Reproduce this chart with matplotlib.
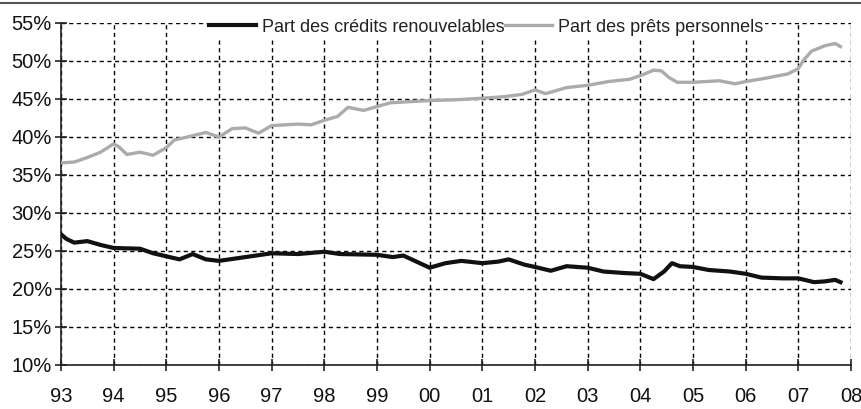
import matplotlib
matplotlib.use("Agg")
import matplotlib.pyplot as plt
from matplotlib.lines import Line2D
from matplotlib.ticker import FuncFormatter, MultipleLocator
import matplotlib.font_manager as fm

# ---- data ----
pp_years = [1993.0, 1993.25, 1993.5, 1993.75, 1994.0, 1994.1, 1994.25, 1994.5, 1994.75,
            1995.0, 1995.15, 1995.4, 1995.75, 1996.0, 1996.25, 1996.5, 1996.75,
            1997.0, 1997.5, 1997.75, 1998.0, 1998.25, 1998.45, 1998.75, 1999.0,
            1999.25, 1999.5, 1999.75, 2000.0, 2000.5, 2001.0, 2001.4, 2001.75,
            2002.0, 2002.2, 2002.6, 2003.0, 2003.4, 2003.8, 2004.05, 2004.25,
            2004.4, 2004.55, 2004.7, 2005.0, 2005.5, 2005.8, 2006.0, 2006.35,
            2006.8, 2007.0, 2007.1, 2007.25, 2007.5, 2007.7, 2007.8]
pp_values = [36.6, 36.7, 37.3, 38.0, 39.1, 38.7, 37.7, 38.0, 37.6,
             38.6, 39.6, 40.0, 40.6, 40.0, 41.1, 41.2, 40.5,
             41.5, 41.7, 41.6, 42.2, 42.7, 43.9, 43.5, 44.0,
             44.5, 44.6, 44.7, 44.8, 44.9, 45.1, 45.3, 45.6,
             46.2, 45.7, 46.5, 46.8, 47.3, 47.6, 48.2, 48.8,
             48.7, 47.8, 47.2, 47.2, 47.4, 47.0, 47.3, 47.7,
             48.3, 49.0, 50.1, 51.3, 52.0, 52.3, 51.9]

cr_years = [1993.0, 1993.1, 1993.25, 1993.5, 1993.75, 1994.0, 1994.5, 1994.75,
            1995.0, 1995.25, 1995.5, 1995.75, 1996.0, 1996.5, 1997.0, 1997.5,
            1998.0, 1998.3, 1999.0, 1999.3, 1999.5, 1999.75, 2000.0, 2000.3,
            2000.6, 2001.0, 2001.3, 2001.5, 2001.8, 2002.0, 2002.3, 2002.6,
            2003.0, 2003.3, 2003.7, 2004.0, 2004.25, 2004.45, 2004.6, 2004.75,
            2005.0, 2005.3, 2005.7, 2006.0, 2006.3, 2006.7, 2007.0, 2007.3,
            2007.5, 2007.7, 2007.8]
cr_values = [27.2, 26.6, 26.1, 26.3, 25.8, 25.4, 25.3, 24.7,
             24.3, 23.9, 24.6, 23.9, 23.7, 24.2, 24.7, 24.6,
             24.9, 24.6, 24.5, 24.2, 24.4, 23.6, 22.8, 23.4,
             23.7, 23.4, 23.6, 23.9, 23.2, 22.9, 22.4, 23.0,
             22.8, 22.3, 22.1, 22.0, 21.3, 22.3, 23.4, 23.0,
             22.9, 22.5, 22.3, 22.0, 21.5, 21.4, 21.4, 20.9,
             21.0, 21.2, 20.9]

series_labels = ["Part des crédits renouvelables", "Part des prêts personnels"]
year_ticks = list(range(1993, 2009))
year_labels = ["%02d" % (y % 100) for y in year_ticks]

# ---- fonts ----
names = {f.name for f in fm.fontManager.ttflist}
fam = "Liberation Sans Narrow" if "Liberation Sans Narrow" in names else "Liberation Sans"
plt.rcParams["font.family"] = [fam, "DejaVu Sans"]

W, H = 862, 409
fig = plt.figure(figsize=(W / 100, H / 100), dpi=100)
ax = fig.add_axes([61 / W, 1 - 365 / H, (851 - 61) / W, (365 - 23) / H])

ax.plot(pp_years, pp_values, color="#ababab", lw=2.4, label=series_labels[1], zorder=3)
ax.plot(cr_years, cr_values, color="#111111", lw=3.0, label=series_labels[0], zorder=4)

ax.set_xlim(1993, 2008)
ax.set_ylim(10, 55)
ax.yaxis.set_major_locator(MultipleLocator(5))
ax.yaxis.set_major_formatter(FuncFormatter(lambda v, p: "%d%%" % round(v)))
ax.set_xticks(year_ticks)
ax.set_xticklabels(year_labels)

ax.grid(True, color="black", linestyle=(0, (3, 2.5)), linewidth=1.0)
for s in ["top", "right"]:
    ax.spines[s].set_visible(False)
for s in ["left", "bottom"]:
    ax.spines[s].set_color("#222222")
    ax.spines[s].set_linewidth(1.2)
ax.tick_params(axis="both", direction="inout", length=9, width=1.2, color="#222222",
               labelsize=14.5, labelcolor="#111111")
ax.tick_params(axis="x", pad=11)
ax.tick_params(axis="y", pad=2)

handles = [Line2D([], [], color="#111111", lw=3.0), Line2D([], [], color="#ababab", lw=2.4)]
leg = fig.legend(handles, series_labels, ncol=2, loc="center",
                 bbox_to_anchor=(486 / W, 1 - 27 / H), bbox_transform=fig.transFigure,
                 frameon=True, fancybox=False, edgecolor="none", facecolor="white",
                 framealpha=1, fontsize=13, handlelength=2.6, handletextpad=0.35,
                 columnspacing=0.0, borderpad=0.1, borderaxespad=0)
for t in leg.get_texts():
    t.set_color("#222222")

fig.add_artist(Line2D([0, 1], [1 - 2.5 / H, 1 - 2.5 / H], color="#555555", lw=1.5,
                      transform=fig.transFigure))

fig.savefig("out.png", dpi=100)
